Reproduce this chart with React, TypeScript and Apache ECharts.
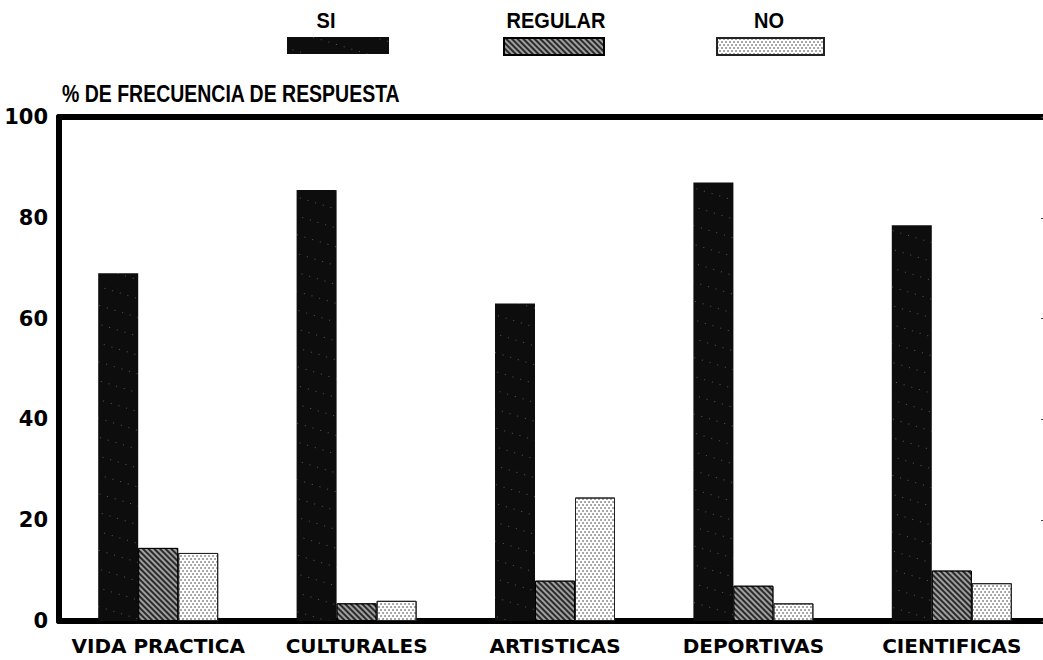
import React, { useEffect, useRef } from "react";
import * as echarts from "echarts";

const categories = ["VIDA PRACTICA", "CULTURALES", "ARTISTICAS", "DEPORTIVAS", "CIENTIFICAS"];
const siValues = [69, 85.5, 63, 87, 78.5];
const regularValues = [14.5, 3.5, 8, 7, 10];
const noValues = [13.5, 4, 24.5, 3.5, 7.5];
const seriesNames = ["SI", "REGULAR", "NO"];
const yTicks = [0, 20, 40, 60, 80, 100];
const titleText = "% DE FRECUENCIA DE RESPUESTA";

const SANS = "Liberation Sans, Arial, Helvetica, sans-serif";
const WIDE = "DejaVu Sans, Verdana, sans-serif";

const siStyle = {
  color: "#0d0d0d",
  decal: {
    symbol: "circle",
    symbolSize: 0.35,
    color: "rgba(255,255,255,0.35)",
    dashArrayX: [[3, 5], [1, 4]],
    dashArrayY: [3, 6],
    rotation: 0.3,
  },
};
const regularStyle = {
  color: "#2a2a2a",
  borderColor: "#000",
  borderWidth: 1,
  decal: {
    symbol: "rect",
    symbolSize: 1,
    color: "rgba(255,255,255,0.55)",
    dashArrayX: [1, 0],
    dashArrayY: [1.5, 2],
    rotation: Math.PI / 4,
  },
};
const noStyle = {
  color: "#ffffff",
  borderColor: "#222",
  borderWidth: 1,
  decal: {
    symbol: "circle",
    symbolSize: 0.7,
    color: "#222",
    dashArrayX: [[2, 2], [0, 2, 2, 0]],
    dashArrayY: [2, 1],
    rotation: 0,
  },
};

export default function App() {
  const ref = useRef<HTMLDivElement>(null);
  useEffect(() => {
    if (!ref.current) return;
    const chart = echarts.init(ref.current, undefined, { renderer: "svg" });
    const legendBase = (name: string, left: number, width: number) => ({
      data: [name],
      left,
      top: 37,
      itemWidth: width,
      itemHeight: 17,
      icon: "rect",
      formatter: () => "",
      textStyle: { fontSize: 1 },
      padding: 0,
      selectedMode: false,
    });
    const legendLabel = (text: string, x: number) => ({
      type: "text",
      x,
      y: 20,
      scaleY: 1.1,
      style: {
        text,
        font: `bold 20px ${SANS}`,
        fill: "#000",
        align: "center",
        verticalAlign: "middle",
      },
    });
    chart.setOption({
      animation: false,
      backgroundColor: "#ffffff",
      legend: [
        legendBase("SI", 287, 102),
        legendBase("REGULAR", 503, 100),
        legendBase("NO", 716, 107),
      ],
      graphic: [
        legendLabel("SI", 326),
        legendLabel("REGULAR", 556),
        legendLabel("NO", 769),
        {
          type: "text",
          x: 62,
          y: 94,
          scaleY: 1.2,
          style: { text: titleText, font: `bold 19.5px ${SANS}`, fill: "#000", align: "left", verticalAlign: "middle" },
        },
      ],
      grid: { left: 59, right: 0, top: 117, bottom: 39, containLabel: false },
      xAxis: [
        {
          type: "category",
          data: categories,
          position: "bottom",
          axisLine: { show: true, onZero: false, lineStyle: { color: "#000", width: 6 } },
          axisTick: { show: false },
          axisLabel: { interval: 0, color: "#000", fontFamily: WIDE, fontWeight: "bold", fontSize: 20, margin: 15 },
          splitLine: { show: false },
        },
        {
          type: "category",
          data: categories,
          position: "top",
          axisLine: { show: true, onZero: false, lineStyle: { color: "#000", width: 6 } },
          axisTick: { show: false },
          axisLabel: { show: false },
          splitLine: { show: false },
        },
      ],
      yAxis: [
        {
          type: "value",
          min: 0,
          max: 100,
          interval: 20,
          axisLine: { show: true, onZero: false, lineStyle: { color: "#000", width: 6 } },
          axisTick: { show: false },
          axisLabel: {
            color: "#000",
            fontFamily: WIDE,
            fontWeight: "bold",
            fontSize: 21,
            margin: 11,
            formatter: (v: number) => (yTicks.includes(v) ? String(v) : ""),
          },
          splitLine: { show: false },
        },
        {
          type: "value",
          min: 0,
          max: 100,
          interval: 20,
          position: "right",
          axisLine: { show: false },
          axisTick: { show: true, inside: true, length: 10, lineStyle: { color: "#444", width: 1 } },
          axisLabel: { show: false },
          splitLine: { show: false },
        },
      ],
      series: [
        { name: seriesNames[0], type: "bar", data: siValues, barWidth: 40, barGap: "0%", itemStyle: siStyle },
        { name: seriesNames[1], type: "bar", data: regularValues, barWidth: 40, barGap: "0%", itemStyle: regularStyle },
        { name: seriesNames[2], type: "bar", data: noValues, barWidth: 40, barGap: "0%", itemStyle: noStyle },
      ],
    });
    return () => chart.dispose();
  }, []);
  return (
    <div
      style={{ position: "absolute", left: 0, top: 0, width: 1043, height: 660, overflow: "hidden", background: "#fff" }}
    >
      <div ref={ref} style={{ width: 1051, height: 660 }} />
    </div>
  );
}
